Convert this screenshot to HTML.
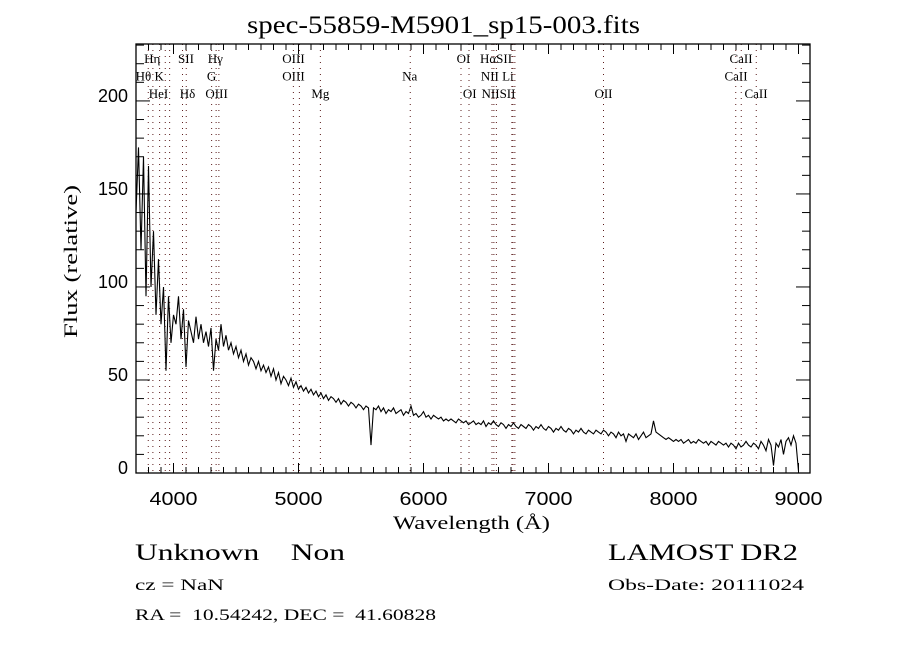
<!DOCTYPE html>
<html><head><meta charset="utf-8"><style>
html,body{margin:0;padding:0;background:#fff;}
svg{display:block;font-family:"Liberation Serif",serif;}
</style></head><body>
<svg id="chart" width="900" height="650" viewBox="0 0 900 650">
<text x="247" y="33" textLength="393" lengthAdjust="spacingAndGlyphs" font-size="25">spec-55859-M5901_sp15-003.fits</text>
<g id="lines"></g>
<g id="axes"></g>
<path id="spec" fill="none" stroke="#000" stroke-width="1.1"/>
<rect x="136" y="44" width="674" height="429" fill="none" stroke="#000" stroke-width="1.3"/>
<text x="393" y="529" textLength="157" lengthAdjust="spacingAndGlyphs" font-size="19">Wavelength (Å)</text>
<text transform="translate(77,338) rotate(-90)" textLength="153" lengthAdjust="spacingAndGlyphs" font-size="19">Flux (relative)</text>
<text x="135" y="560" font-size="23" textLength="210" lengthAdjust="spacingAndGlyphs" xml:space="preserve">Unknown    Non</text>
<text x="135" y="590" font-size="16" textLength="89" lengthAdjust="spacingAndGlyphs">cz = NaN</text>
<text x="135" y="620" font-size="16" textLength="301" lengthAdjust="spacingAndGlyphs" xml:space="preserve">RA =  10.54242, DEC =  41.60828</text>
<text x="608" y="560" font-size="23" textLength="190" lengthAdjust="spacingAndGlyphs">LAMOST DR2</text>
<text x="608" y="590" font-size="16" textLength="196" lengthAdjust="spacingAndGlyphs">Obs-Date: 20111024</text>
</svg>
<script>
const waveStart = 3700, waveStep = 20;
const flux = [
140,175,120,170,95,165,100,130,85,115,80,100,55,95,70,85,80,95,72,88,57,82,76,70,84,72,80,70,76,68,78,55,72,66,80,68,
74,66,70,64,68,62,66,60,64,58,62,60,56,60,55,58,54,57,52,56,50,54,48,52,50,47,51,46,49,45,
47,44,46,43,45,42,44,41,43,40,42,39,41,40,38,40,37,39,38,36,38,37,35,37,36,34,36,35,15,35,
34,36,33,35,32,34,33,35,32,33,34,31,33,32,36,31,32,30,31,33,30,31,29,31,30,29,30,28,29,28,
29,28,27,29,28,27,28,26,27,28,26,27,26,28,25,27,26,28,26,25,27,26,24,26,25,27,25,24,26,25,
24,26,25,23,25,24,26,24,23,25,24,22,24,23,25,23,22,24,23,21,23,22,24,22,21,23,22,21,23,22,
21,23,22,20,22,21,19,22,20,21,17,21,20,19,21,18,20,22,19,20,21,28,22,21,20,19,18,19,18,17,
18,17,18,16,17,18,16,17,16,18,17,16,17,15,17,16,15,17,16,15,16,14,16,15,13,16,14,15,17,15,
14,16,15,13,17,15,12,18,15,4,16,14,18,10,17,19,15,20,16,1];
const lineWaves = [3798,3835,3889,3934,3969,4072,4102,4305,4341,4363,4959,5007,5175,5894,6300,6364,6548,6563,6583,6707,6716,6731,7440,8498,8542,8662];
const labelTexts = ["Hη","SII","Hγ","OIII","OI","HαSII","CaII","Hθ K","G","OIII","Na","NII Li","CaII","HeI","Hδ","OIII","Mg","OI","NIISII","OII","CaII"];
const labelWaves = [3830,4100,4335,4960,6320,6580,8540,3810,4305,4960,5890,6590,8500,3880,4112,4345,5175,6370,6600,7440,8660];
const labelRows = [0,0,0,0,0,0,0,1,1,1,1,1,1,2,2,2,2,2,2,2,2];
const xTicks = [4000,5000,6000,7000,8000,9000];
const yTicks = [0,50,100,150,200];

const X0=136,X1=810,Y0=473,Y1=44,WMIN=3700,WMAX=9092,FMIN=0,FMAX=230.6;
const sx=w=>X0+(w-WMIN)/(WMAX-WMIN)*(X1-X0);
const sy=f=>Y0-(f-FMIN)/(FMAX-FMIN)*(Y0-Y1);
const NS="http://www.w3.org/2000/svg";
function mk(tag,attrs,parent){const e=document.createElementNS(NS,tag);for(const k in attrs)e.setAttribute(k,attrs[k]);parent.appendChild(e);return e;}

const lg=document.getElementById('lines');
lineWaves.forEach(w=>{
  const l=mk('line',{x1:sx(w),x2:sx(w),y1:Y1,y2:Y0,stroke:'#5a1a1a','stroke-width':1,'stroke-dasharray':'1,5'},lg);
  
  
});
labelTexts.forEach((t,i)=>{
  const e=mk('text',{x:sx(labelWaves[i]),y:63+labelRows[i]*17.5,'text-anchor':'middle','font-size':13},lg);
  e.textContent=t;
  
  
});

const ax=document.getElementById('axes');
for(let w=3700;w<=9092;w+=100){
  const major=w%1000===0, len=major?10:6;
  const t1=mk('line',{x1:sx(w),x2:sx(w),y1:Y0,y2:Y0-len,stroke:'#000'},ax);
  
  
  const t2=mk('line',{x1:sx(w),x2:sx(w),y1:Y1,y2:Y1+len,stroke:'#000'},ax);
  
  
}
xTicks.forEach(w=>{
  const e=mk('text',{x:sx(w)-24,y:505,textLength:48,lengthAdjust:'spacingAndGlyphs','font-size':18,'font-family':'Liberation Sans, sans-serif'},ax);
  e.textContent=w;
  
  
});
for(let f=0;f<=230;f+=10){
  const major=f%50===0, len=major?14:8;
  const t1=mk('line',{x1:X0,x2:X0+len,y1:sy(f),y2:sy(f),stroke:'#000'},ax);
  
  
  const t2=mk('line',{x1:X1,x2:X1-len,y1:sy(f),y2:sy(f),stroke:'#000'},ax);
  
  
}
yTicks.forEach(f=>{
  const s=String(f);
  const e=mk('text',{x:128-10*s.length,y:sy(f)+1,textLength:10*s.length,lengthAdjust:'spacingAndGlyphs','font-size':18,'font-family':'Liberation Sans, sans-serif'},ax);
  e.textContent=f;
  
  
});

let d='';
flux.forEach((f,i)=>{const w=waveStart+i*waveStep;d+=(i?'L':'M')+sx(w).toFixed(1)+' '+sy(f).toFixed(1);});
document.getElementById('spec').setAttribute('d',d);
</script>
</body></html>
